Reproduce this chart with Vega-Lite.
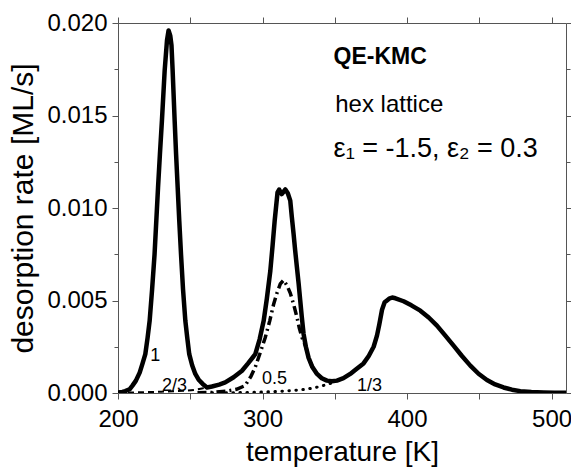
{
  "$schema": "https://vega.github.io/schema/vega-lite/v6.json",
  "autosize": {"type": "none"},
  "width": 448,
  "height": 370,
  "padding": {"left": 118, "top": 23, "right": 5, "bottom": 76},
  "background": "white",
  "config": {"font": "Liberation Sans", "view": {"stroke": null}},
  "datasets": {
    "curves": [
      {"series": "1", "T": 200, "rate": 0.00003},
      {"series": "1", "T": 203, "rate": 0.00006},
      {"series": "1", "T": 205, "rate": 0.0001},
      {"series": "1", "T": 208, "rate": 0.0002},
      {"series": "1", "T": 210, "rate": 0.0004},
      {"series": "1", "T": 212.4, "rate": 0.00067},
      {"series": "1", "T": 215, "rate": 0.0011},
      {"series": "1", "T": 217, "rate": 0.0016},
      {"series": "1", "T": 218.9, "rate": 0.0021},
      {"series": "1", "T": 220.5, "rate": 0.003},
      {"series": "1", "T": 221.9, "rate": 0.0039},
      {"series": "1", "T": 223.6, "rate": 0.0056},
      {"series": "1", "T": 225.3, "rate": 0.0075},
      {"series": "1", "T": 226.5, "rate": 0.0093},
      {"series": "1", "T": 227.7, "rate": 0.0111},
      {"series": "1", "T": 229, "rate": 0.0129},
      {"series": "1", "T": 230.4, "rate": 0.01473},
      {"series": "1", "T": 232.3, "rate": 0.01744},
      {"series": "1", "T": 233.9, "rate": 0.01906},
      {"series": "1", "T": 235.0, "rate": 0.0196},
      {"series": "1", "T": 236.2, "rate": 0.0193},
      {"series": "1", "T": 237.0, "rate": 0.0188},
      {"series": "1", "T": 237.8, "rate": 0.01744},
      {"series": "1", "T": 239.2, "rate": 0.01473},
      {"series": "1", "T": 240.2, "rate": 0.0129},
      {"series": "1", "T": 241.3, "rate": 0.0111},
      {"series": "1", "T": 242.4, "rate": 0.0093},
      {"series": "1", "T": 243.6, "rate": 0.0075},
      {"series": "1", "T": 245, "rate": 0.0056},
      {"series": "1", "T": 246.6, "rate": 0.0039},
      {"series": "1", "T": 247.9, "rate": 0.003},
      {"series": "1", "T": 249.3, "rate": 0.0021},
      {"series": "1", "T": 251.3, "rate": 0.0015},
      {"series": "1", "T": 253.5, "rate": 0.00103},
      {"series": "1", "T": 256, "rate": 0.0007},
      {"series": "1", "T": 258.6, "rate": 0.00049},
      {"series": "1", "T": 261.6, "rate": 0.0003},
      {"series": "1", "T": 265, "rate": 0.00035},
      {"series": "1", "T": 270, "rate": 0.00045},
      {"series": "1", "T": 274.2, "rate": 0.00057},
      {"series": "1", "T": 280, "rate": 0.00085},
      {"series": "1", "T": 285.8, "rate": 0.0012},
      {"series": "1", "T": 290, "rate": 0.0016},
      {"series": "1", "T": 295, "rate": 0.0021},
      {"series": "1", "T": 298, "rate": 0.0029},
      {"series": "1", "T": 300.8, "rate": 0.0039},
      {"series": "1", "T": 303, "rate": 0.0051},
      {"series": "1", "T": 305.4, "rate": 0.0066},
      {"series": "1", "T": 307, "rate": 0.008},
      {"series": "1", "T": 308.4, "rate": 0.0093},
      {"series": "1", "T": 310.4, "rate": 0.01085},
      {"series": "1", "T": 311.5, "rate": 0.011},
      {"series": "1", "T": 313.3, "rate": 0.01075},
      {"series": "1", "T": 315.8, "rate": 0.011},
      {"series": "1", "T": 317.5, "rate": 0.0108},
      {"series": "1", "T": 319.2, "rate": 0.0104},
      {"series": "1", "T": 320.3, "rate": 0.0095},
      {"series": "1", "T": 321.5, "rate": 0.0086},
      {"series": "1", "T": 322.6, "rate": 0.0077},
      {"series": "1", "T": 323.8, "rate": 0.0068},
      {"series": "1", "T": 325, "rate": 0.0059},
      {"series": "1", "T": 326.1, "rate": 0.005},
      {"series": "1", "T": 327.2, "rate": 0.0041},
      {"series": "1", "T": 328.4, "rate": 0.0032},
      {"series": "1", "T": 330, "rate": 0.0025},
      {"series": "1", "T": 331.9, "rate": 0.0019},
      {"series": "1", "T": 334.5, "rate": 0.0014},
      {"series": "1", "T": 337.7, "rate": 0.00103},
      {"series": "1", "T": 341, "rate": 0.0008},
      {"series": "1", "T": 344.6, "rate": 0.00067},
      {"series": "1", "T": 348, "rate": 0.00063},
      {"series": "1", "T": 351.5, "rate": 0.00067},
      {"series": "1", "T": 356, "rate": 0.0008},
      {"series": "1", "T": 360.7, "rate": 0.00103},
      {"series": "1", "T": 365, "rate": 0.0013},
      {"series": "1", "T": 369.9, "rate": 0.0016},
      {"series": "1", "T": 373.5, "rate": 0.002},
      {"series": "1", "T": 376.9, "rate": 0.0025},
      {"series": "1", "T": 379.2, "rate": 0.0031},
      {"series": "1", "T": 380.8, "rate": 0.0037},
      {"series": "1", "T": 382.7, "rate": 0.0045},
      {"series": "1", "T": 384.5, "rate": 0.0049},
      {"series": "1", "T": 386.1, "rate": 0.005},
      {"series": "1", "T": 388, "rate": 0.00512},
      {"series": "1", "T": 389.7, "rate": 0.00516},
      {"series": "1", "T": 392, "rate": 0.00512},
      {"series": "1", "T": 397.6, "rate": 0.00496},
      {"series": "1", "T": 403, "rate": 0.00474},
      {"series": "1", "T": 409.2, "rate": 0.00445},
      {"series": "1", "T": 415, "rate": 0.00408},
      {"series": "1", "T": 420.7, "rate": 0.00364},
      {"series": "1", "T": 426.5, "rate": 0.0031},
      {"series": "1", "T": 432.2, "rate": 0.00256},
      {"series": "1", "T": 438, "rate": 0.002},
      {"series": "1", "T": 443.8, "rate": 0.00148},
      {"series": "1", "T": 449.5, "rate": 0.00104},
      {"series": "1", "T": 455.3, "rate": 0.0007},
      {"series": "1", "T": 461, "rate": 0.00046},
      {"series": "1", "T": 466.8, "rate": 0.0003},
      {"series": "1", "T": 472.6, "rate": 0.00018},
      {"series": "1", "T": 478.4, "rate": 0.0001},
      {"series": "1", "T": 486, "rate": 0.00005},
      {"series": "1", "T": 494.5, "rate": 0.00003},
      {"series": "1", "T": 502, "rate": 0.00002},
      {"series": "1", "T": 510, "rate": 0.00001},

      {"series": "2/3", "T": 200, "rate": 0.00002},
      {"series": "2/3", "T": 210, "rate": 0.00003},
      {"series": "2/3", "T": 220, "rate": 0.00005},
      {"series": "2/3", "T": 230, "rate": 0.00007},
      {"series": "2/3", "T": 240, "rate": 0.0001},
      {"series": "2/3", "T": 248, "rate": 0.00013},
      {"series": "2/3", "T": 254, "rate": 0.00018},
      {"series": "2/3", "T": 258, "rate": 0.00024},
      {"series": "2/3", "T": 261.6, "rate": 0.0003},
      {"series": "2/3", "T": 265, "rate": 0.00035},
      {"series": "2/3", "T": 270, "rate": 0.00045},

      {"series": "0.5", "T": 255, "rate": 0.00001},
      {"series": "0.5", "T": 265, "rate": 0.00003},
      {"series": "0.5", "T": 275, "rate": 0.0001},
      {"series": "0.5", "T": 282, "rate": 0.0002},
      {"series": "0.5", "T": 288, "rate": 0.0004},
      {"series": "0.5", "T": 292, "rate": 0.0009},
      {"series": "0.5", "T": 295, "rate": 0.0014},
      {"series": "0.5", "T": 298.5, "rate": 0.0022},
      {"series": "0.5", "T": 301.9, "rate": 0.003},
      {"series": "0.5", "T": 305, "rate": 0.0039},
      {"series": "0.5", "T": 307.7, "rate": 0.0048},
      {"series": "0.5", "T": 310, "rate": 0.0054},
      {"series": "0.5", "T": 312.3, "rate": 0.0059},
      {"series": "0.5", "T": 314.6, "rate": 0.0061},
      {"series": "0.5", "T": 317, "rate": 0.0058},
      {"series": "0.5", "T": 319.2, "rate": 0.0054},
      {"series": "0.5", "T": 321.5, "rate": 0.0048},
      {"series": "0.5", "T": 323.8, "rate": 0.0041},
      {"series": "0.5", "T": 325.5, "rate": 0.0035},
      {"series": "0.5", "T": 327.3, "rate": 0.003},
      {"series": "0.5", "T": 330, "rate": 0.0025},
      {"series": "0.5", "T": 331.9, "rate": 0.0019},
      {"series": "0.5", "T": 334.5, "rate": 0.0014},
      {"series": "0.5", "T": 337.7, "rate": 0.00103},

      {"series": "1/3", "T": 265, "rate": 0.00001},
      {"series": "1/3", "T": 280, "rate": 0.00002},
      {"series": "1/3", "T": 290, "rate": 0.00003},
      {"series": "1/3", "T": 300, "rate": 0.00005},
      {"series": "1/3", "T": 310, "rate": 0.00008},
      {"series": "1/3", "T": 320, "rate": 0.00013},
      {"series": "1/3", "T": 330, "rate": 0.0002},
      {"series": "1/3", "T": 337, "rate": 0.0003},
      {"series": "1/3", "T": 342, "rate": 0.0004},
      {"series": "1/3", "T": 347, "rate": 0.00052},
      {"series": "1/3", "T": 351.5, "rate": 0.00067},
      {"series": "1/3", "T": 356, "rate": 0.0008}
    ],
    "notes": [
      {"kind": "title", "T": 349.2, "rate": 0.0178, "label": "QE-KMC"},
      {"kind": "sub", "T": 350.3, "rate": 0.01518, "label": "hex lattice"},
      {"kind": "eps", "T": 349.2, "rate": 0.01275, "label": "ε₁ = -1.5, ε₂ = 0.3"},
      {"kind": "curve", "T": 222.3, "rate": 0.00175, "label": "1"},
      {"kind": "curve", "T": 230.4, "rate": 0.000125, "label": "2/3"},
      {"kind": "curve", "T": 299.6, "rate": 0.00049, "label": "0.5"},
      {"kind": "curve", "T": 365.4, "rate": 0.000125, "label": "1/3"}
    ]
  },
  "resolve": {"axis": {"x": "independent", "y": "independent"}},
  "layer": [
    {
      "data": {"name": "curves"},
      "transform": [{"filter": "datum.series === '2/3'"}],
      "mark": {"type": "line", "color": "black", "strokeWidth": 2, "strokeDash": [6, 4], "clip": true},
      "encoding": {
        "x": {"field": "T", "type": "quantitative", "scale": {"domain": [200, 510], "nice": false, "zero": false},
          "axis": {"orient": "bottom", "title": "temperature [K]", "values": [200, 250, 300, 350, 400, 450, 500],
            "labelExpr": "datum.value % 100 === 0 ? datum.label : ''", "format": "d",
            "grid": false, "tickSize": 6, "labelPadding": 8, "labelFontSize": 24, "labelColor": "black",
            "titleFontSize": 28, "titleFontWeight": "normal", "titleColor": "black", "titlePadding": 7,
            "domainColor": "#555", "tickColor": "#555", "labelFlush": false, "labelOverlap": false}},
        "y": {"field": "rate", "type": "quantitative", "scale": {"domain": [0, 0.02], "nice": false, "zero": false},
          "axis": {"orient": "left", "title": "desorption rate [ML/s]",
            "values": [0, 0.0025, 0.005, 0.0075, 0.01, 0.0125, 0.015, 0.0175, 0.02],
            "labelExpr": "abs(datum.value*200 - round(datum.value*200)) < 0.000001 ? format(datum.value, '.3f') : ''",
            "tickSize": {"condition": {"test": "abs(datum.value*200 - round(datum.value*200)) < 0.000001", "value": 6}, "value": 4},
            "grid": false, "labelPadding": 5, "labelFontSize": 24, "labelColor": "black",
            "titleFontSize": 30, "titleFontWeight": "normal", "titleColor": "black", "titlePadding": 8,
            "domainColor": "#555", "tickColor": "#555", "labelFlush": false, "labelOverlap": false}}
      }
    },
    {
      "data": {"name": "curves"},
      "transform": [{"filter": "datum.series === '1/3'"}],
      "mark": {"type": "line", "color": "black", "strokeWidth": 3, "strokeDash": [0.5, 6.5], "strokeCap": "round", "clip": true},
      "encoding": {
        "x": {"field": "T", "type": "quantitative", "scale": {"domain": [200, 510], "nice": false, "zero": false},
          "axis": {"orient": "top", "title": null, "values": [200, 250, 300, 350, 400, 450, 500], "labels": false,
            "grid": false, "tickSize": 6, "domainColor": "#555", "tickColor": "#555"}},
        "y": {"field": "rate", "type": "quantitative", "scale": {"domain": [0, 0.02], "nice": false, "zero": false},
          "axis": {"orient": "right", "title": null, "values": [0, 0.0025, 0.005, 0.0075, 0.01, 0.0125, 0.015, 0.0175, 0.02], "labels": false,
            "tickSize": {"condition": {"test": "abs(datum.value*200 - round(datum.value*200)) < 0.000001", "value": 6}, "value": 4},
            "grid": false, "domainColor": "#555", "tickColor": "#555"}}
      }
    },
    {
      "data": {"name": "curves"},
      "transform": [{"filter": "datum.series === '0.5'"}],
      "mark": {"type": "line", "color": "black", "strokeWidth": 3.5, "strokeDash": [9, 4, 2, 4], "clip": true},
      "encoding": {
        "x": {"field": "T", "type": "quantitative", "scale": {"domain": [200, 510], "nice": false, "zero": false}, "axis": null},
        "y": {"field": "rate", "type": "quantitative", "scale": {"domain": [0, 0.02], "nice": false, "zero": false}, "axis": null}
      }
    },
    {
      "data": {"name": "curves"},
      "transform": [{"filter": "datum.series === '1'"}],
      "mark": {"type": "line", "color": "black", "strokeWidth": 4.5, "strokeJoin": "round", "clip": true},
      "encoding": {
        "x": {"field": "T", "type": "quantitative", "scale": {"domain": [200, 510], "nice": false, "zero": false}, "axis": null},
        "y": {"field": "rate", "type": "quantitative", "scale": {"domain": [0, 0.02], "nice": false, "zero": false}, "axis": null}
      }
    },
    {
      "data": {"name": "notes"},
      "transform": [{"filter": "datum.kind === 'title'"}],
      "mark": {"type": "text", "align": "left", "baseline": "alphabetic", "fontSize": 23, "fontWeight": "bold", "color": "black"},
      "encoding": {
        "x": {"field": "T", "type": "quantitative", "axis": null},
        "y": {"field": "rate", "type": "quantitative", "axis": null},
        "text": {"field": "label"}
      }
    },
    {
      "data": {"name": "notes"},
      "transform": [{"filter": "datum.kind === 'sub'"}],
      "mark": {"type": "text", "align": "left", "baseline": "alphabetic", "fontSize": 24, "color": "black"},
      "encoding": {
        "x": {"field": "T", "type": "quantitative", "axis": null},
        "y": {"field": "rate", "type": "quantitative", "axis": null},
        "text": {"field": "label"}
      }
    },
    {
      "data": {"name": "notes"},
      "transform": [{"filter": "datum.kind === 'eps'"}],
      "mark": {"type": "text", "align": "left", "baseline": "alphabetic", "fontSize": 27, "color": "black"},
      "encoding": {
        "x": {"field": "T", "type": "quantitative", "axis": null},
        "y": {"field": "rate", "type": "quantitative", "axis": null},
        "text": {"field": "label"}
      }
    },
    {
      "data": {"name": "notes"},
      "transform": [{"filter": "datum.kind === 'curve'"}],
      "mark": {"type": "text", "align": "left", "baseline": "alphabetic", "fontSize": 18, "color": "black"},
      "encoding": {
        "x": {"field": "T", "type": "quantitative", "axis": null},
        "y": {"field": "rate", "type": "quantitative", "axis": null},
        "text": {"field": "label"}
      }
    }
  ]
}
